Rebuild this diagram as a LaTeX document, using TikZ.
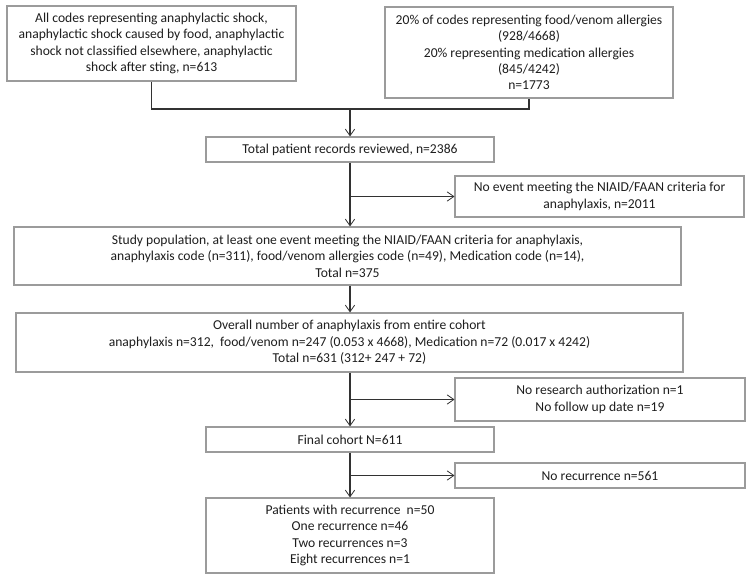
\documentclass[tikz,border=0pt]{standalone}
\usepackage{fontspec}
\setmainfont{Carlito}
\usetikzlibrary{arrows.meta}
\definecolor{boxgray}{RGB}{155,155,155}
\definecolor{linegray}{RGB}{50,50,50}
\definecolor{txt}{RGB}{30,30,30}
\begin{document}
\begin{tikzpicture}[x=0.75pt,y=-0.75pt,
  box/.style={draw=boxgray, line width=0.8pt, align=center, inner sep=0pt, text=txt,
    font=\fontsize{10.2pt}{12.3pt}\selectfont},
  conn/.style={draw=linegray, line width=0.8pt},
  arr/.style={conn, -{Straight Barb[length=5pt,width=7pt,line width=0.6pt]}}]
\useasboundingbox (0,0) rectangle (754,581);
\fill[white] (0,0) rectangle (754,581);

\node[box, minimum width=216.75pt, minimum height=56.25pt] (A) at (151.5,43.5)
  {All codes representing anaphylactic shock,\\anaphylactic shock caused by food, anaphylactic\\shock not classified elsewhere, anaphylactic\\shock after sting, n=613};
\node[box, minimum width=216pt, minimum height=68.25pt] (B) at (529,52.5)
  {20\% of codes representing food/venom allergies\\(928/4668)\\20\% representing medication allergies\\(845/4242)\\n=1773};
\node[box, minimum width=216pt, minimum height=18.75pt] (C) at (350,149.5)
  {Total patient records reviewed, n=2386};
\node[box, minimum width=216.75pt, minimum height=30.75pt] (N) at (599.5,196.5)
  {No event meeting the NIAID/FAAN criteria for\\anaphylaxis, n=2011};
\node[box, minimum width=500.25pt, minimum height=43.5pt] (D) at (347.5,256)
  {Study population, at least one event meeting the NIAID/FAAN criteria for anaphylaxis,\\anaphylaxis code (n=311), food/venom allergies code (n=49), Medication code (n=14),\\Total n=375};
\node[box, minimum width=500.25pt, minimum height=44.25pt] (E) at (349.5,342.5)
  {Overall number of anaphylaxis from entire cohort\\anaphylaxis n=312,~ food/venom n=247 (0.053 x 4668), Medication n=72 (0.017 x 4242)\\Total n=631 (312+ 247 + 72)};
\node[box, minimum width=217.5pt, minimum height=32.25pt] (G) at (600,399.5)
  {No research authorization n=1\\No follow up date n=19};
\node[box, minimum width=216pt, minimum height=18.75pt] (F) at (350,439.5)
  {Final cohort N=611};
\node[box, minimum width=217.5pt, minimum height=18.75pt] (I) at (600,475.5)
  {No recurrence n=561};
\node[box, minimum width=216pt, minimum height=56.25pt] (H) at (350,535.5)
  {Patients with recurrence~ n=50\\One recurrence n=46\\Two recurrences n=3\\Eight recurrences n=1};

\coordinate (jn) at (350,109);
\draw[conn] (A.south) |- (jn) -| (B.south);
\draw[arr] (jn) -- (C.north);
\draw[arr] (C.south) -- (C.south |- D.north);
\draw[arr] (C.south |- N.west) -- (N.west);
\draw[arr] (C.south |- D.south) -- (C.south |- E.north);
\draw[arr] (F.north |- E.south) -- (F.north);
\draw[arr] (F.north |- G.west) -- (G.west);
\draw[arr] (F.south) -- (H.north);
\draw[arr] (F.south |- I.west) -- (I.west);
\end{tikzpicture}
\end{document}
